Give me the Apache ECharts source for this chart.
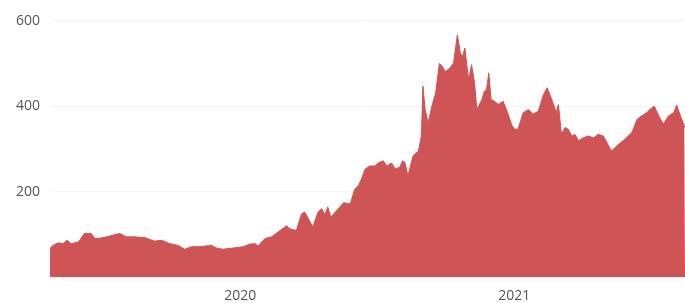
<!DOCTYPE html>
<html>
<head>
<meta charset="utf-8">
<script src="https://cdn.jsdelivr.net/npm/echarts@6/dist/echarts.min.js"></script>
<style>
  html, body { margin: 0; padding: 0; background: #fff; }
  #chart { width: 685px; height: 303px; }
</style>
</head>
<body>
<div id="chart"></div>
<script>
// price history
var dates = [
  '2019-04-22', '2019-04-26', '2019-05-03', '2019-05-09', '2019-05-15', '2019-05-20', '2019-05-30',
  '2019-06-07', '2019-06-16', '2019-06-21', '2019-06-25', '2019-07-07', '2019-07-15', '2019-07-24',
  '2019-08-02', '2019-08-13', '2019-08-27', '2019-09-05', '2019-09-09', '2019-09-18', '2019-09-29',
  '2019-10-10', '2019-10-19', '2019-10-28', '2019-11-08', '2019-11-24', '2019-11-30', '2019-12-09',
  '2019-12-23', '2020-01-05', '2020-01-14', '2020-01-21', '2020-01-25', '2020-02-03', '2020-02-12',
  '2020-02-21', '2020-03-03', '2020-03-07', '2020-03-16', '2020-03-23', '2020-03-27', '2020-04-01',
  '2020-04-07', '2020-04-14', '2020-04-19', '2020-04-23', '2020-04-27', '2020-05-01', '2020-05-09',
  '2020-05-18', '2020-05-27', '2020-06-02', '2020-06-07', '2020-06-11', '2020-06-16', '2020-06-22',
  '2020-06-29', '2020-07-03', '2020-07-10', '2020-07-15', '2020-07-21', '2020-07-26', '2020-08-01',
  '2020-08-05', '2020-08-08', '2020-08-12', '2020-08-19', '2020-08-26', '2020-08-30', '2020-09-01',
  '2020-09-04', '2020-09-08', '2020-09-13', '2020-09-18', '2020-09-23', '2020-09-27', '2020-10-01',
  '2020-10-07', '2020-10-12', '2020-10-17', '2020-10-21', '2020-10-24', '2020-10-27', '2020-11-01',
  '2020-11-05', '2020-11-09', '2020-11-12', '2020-11-19', '2020-11-22', '2020-11-25', '2020-11-28',
  '2020-12-01', '2020-12-05', '2020-12-11', '2020-12-17', '2020-12-23', '2020-12-29', '2021-01-02',
  '2021-01-06', '2021-01-13', '2021-01-20', '2021-01-26', '2021-02-02', '2021-02-09', '2021-02-14',
  '2021-02-20', '2021-02-26', '2021-03-01', '2021-03-05', '2021-03-10', '2021-03-14', '2021-03-19',
  '2021-03-23', '2021-03-28', '2021-04-03', '2021-04-10', '2021-04-17', '2021-04-23', '2021-04-30',
  '2021-05-07', '2021-05-11', '2021-05-18', '2021-05-29', '2021-06-07', '2021-06-14', '2021-06-20',
  '2021-06-27', '2021-07-01', '2021-07-07', '2021-07-13', '2021-07-19', '2021-07-26', '2021-08-02',
  '2021-08-06', '2021-08-11', '2021-08-16', '2021-08-17'
];
var prices = [
  67, 74, 80, 78, 86, 78, 82,
  102, 102, 90, 90, 94, 98, 102,
  94, 94, 92, 86, 84, 86, 78,
  74, 65, 71, 71, 74, 68, 65,
  68, 71, 77, 78, 73, 90, 94,
  106, 120, 113, 109, 148, 152, 137,
  117, 152, 160, 146, 164, 140, 156,
  174, 171, 206, 214, 230, 253, 260,
  260, 267, 272, 260, 267, 253, 257,
  272, 268, 237, 284, 295, 330, 447,
  392, 361, 400, 431, 500, 493, 481,
  489, 501, 567, 524, 516, 536, 462,
  497, 454, 392, 416, 435, 439, 478,
  416, 412, 404, 412, 385, 354, 346,
  346, 385, 392, 381, 388, 427, 443,
  416, 385, 404, 334, 350, 346, 330,
  334, 319, 326, 330, 326, 334, 330,
  307, 295, 307, 323, 338, 369, 377,
  385, 392, 400, 377, 358, 377, 385,
  402, 377, 354, 350
];
var xRange = ['2019-04-22', '2021-08-17'];
var yTicks = [200, 400, 600];

var red = '#ce5456';
var labelColor = '#555555';

var chart = echarts.init(document.getElementById('chart'), null, { renderer: 'canvas' });
chart.setOption({
  animation: false,
  grid: { left: 50, right: 0, top: 20.7, bottom: 24.3 },
  xAxis: {
    type: 'time',
    min: xRange[0],
    max: xRange[1],
    axisLine: { show: false },
    axisTick: { show: false },
    splitLine: { show: false },
    axisLabel: {
      color: labelColor,
      fontSize: 14,
      fontFamily: 'Open Sans',
      margin: 12,
      hideOverlap: false,
      formatter: function(v) {
        var d = new Date(v);
        return (d.getMonth() === 0 && d.getDate() === 1) ? String(d.getFullYear()) : '';
      }
    }
  },
  yAxis: {
    type: 'value',
    min: 0,
    max: 600,
    interval: 200,
    axisLine: { show: false },
    axisTick: { show: false },
    splitLine: { lineStyle: { color: '#f3f3f3', width: 1 } },
    axisLabel: {
      color: labelColor,
      fontSize: 14,
      fontFamily: 'Open Sans',
      margin: 10,
      formatter: function(v) { return yTicks.indexOf(v) >= 0 ? String(v) : ''; }
    }
  },
  series: [{
    type: 'line',
    data: dates.map(function(d, i) { return [d, prices[i]]; }),
    showSymbol: false,
    lineStyle: { color: red, width: 1 },
    areaStyle: { color: red, opacity: 1 },
    itemStyle: { color: red }
  }]
});
</script>
</body>
</html>
